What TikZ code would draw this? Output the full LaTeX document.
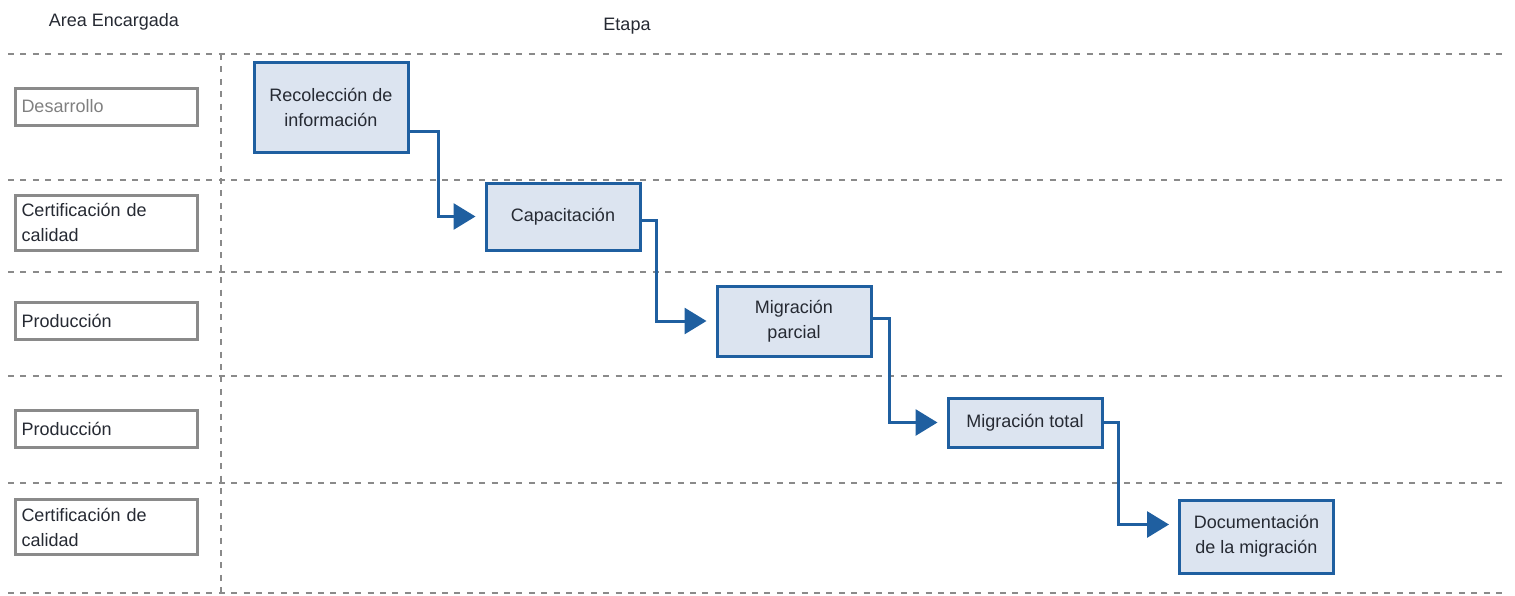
\documentclass[tikz,border=0pt]{standalone}
\usepackage{fontspec}
\setmainfont{Liberation Sans}
\usetikzlibrary{arrows.meta}

\definecolor{azul}{HTML}{1F5FA0}
\definecolor{celeste}{HTML}{DCE4F0}
\definecolor{gris}{HTML}{8A8A8A}
\definecolor{texto}{HTML}{262A33}

\tikzset{
  letra/.style={font=\fontsize{9}{12.5}\selectfont, text=texto},
  etapa/.style={letra, draw=azul, fill=celeste, line width=1.5pt, align=center, minimum width=77pt},
  area/.style={letra, draw=gris, line width=1.5pt, text width=85pt, inner xsep=3pt, align=left},
  flecha/.style={azul, line width=1.5pt, -{Triangle[length=11pt,width=13pt]}, shorten >=4.5pt},
  carril/.style={gris, line width=1.2pt, dash pattern=on 3pt off 3.2pt}
}

\begin{document}
\begin{tikzpicture}[x=0.5pt, y=-0.5pt]

\useasboundingbox (0,0) rectangle (1515,595);

% Encabezados
\node[letra] (hdrarea) at (114,22) {Area Encargada};
\node[letra] (hdretapa) at (627,26) {Etapa};

% Carriles
\foreach \yy in {54,180,272,376,483,593}
  \draw[carril] (8,\yy) -- (1507,\yy);
\draw[carril] (221,54) -- (221,595);

% Areas encargadas
\node[area, minimum height=18.5pt, text=gray] (desa) at (106.5,106.5) {Desarrollo};
\node[area, minimum height=27.5pt] (cert1) at (106.5,222.5) {Certificación de\\calidad};
\node[area, minimum height=18.5pt] (prod1) at (106.5,320.5) {Producción};
\node[area, minimum height=18.5pt] (prod2) at (106.5,428.5) {Producción};
\node[area, minimum height=27.5pt] (cert2) at (106.5,527) {Certificación de\\calidad};

% Etapas
\node[etapa, minimum height=45pt] (rec) at (331,107) {Recolección de\\información};
\node[etapa, minimum height=33.5pt] (cap) at (563,216.5) {Capacitación};
\node[etapa, minimum height=35pt] (par) at (794,321) {Migración\\parcial};
\node[etapa, minimum height=24.5pt] (tot) at (1025,422.5) {Migración total};
\node[etapa, minimum height=36.5pt] (doc) at (1256.5,536.5) {Documentación\\de la migración};

% Flujo
\draw[flecha] ([yshift=-12pt]rec.east) -- ++(29,0) |- (cap.west);
\draw[flecha] ([yshift=-2pt]cap.east) -- ++(15,0) |- (par.west);
\draw[flecha] ([yshift=1.5pt]par.east) -- ++(17,0) |- (tot.west);
\draw[flecha] (tot.east) -- ++(15,0) |- ([yshift=6pt]doc.west);

\end{tikzpicture}
\end{document}
